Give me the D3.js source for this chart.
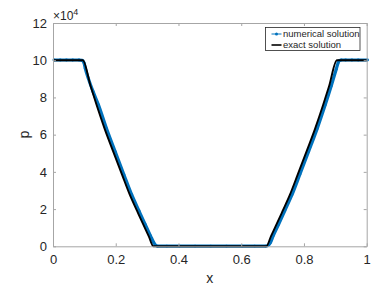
<!DOCTYPE html>
<html>
<head>
<meta charset="utf-8">
<script src="https://cdn.jsdelivr.net/npm/d3@7"></script>
<style>
  html, body { margin: 0; padding: 0; background: #fff; }
  svg { display: block; font-family: "Liberation Sans", Arial, sans-serif; }
</style>
</head>
<body>
<svg id="chart" width="382" height="287"></svg>
<script>
// ---- data (p in units of 1e4) ----
const exactX = [0, 0.095, 0.12, 0.139, 0.165, 0.192, 0.22, 0.245, 0.268, 0.288, 0.305, 0.32,
                0.68, 0.695, 0.712, 0.732, 0.755, 0.78, 0.808, 0.835, 0.861, 0.88, 0.905, 1];
const exactP = [10, 10, 8.6, 7.59, 6.3, 5.09, 3.85, 2.76, 1.9, 1.16, 0.55, 0,
                0, 0.55, 1.16, 1.9, 2.76, 3.85, 5.09, 6.3, 7.59, 8.6, 10, 10];

const numX = [0, 0.02, 0.04, 0.06, 0.08, 0.09, 0.096, 0.1, 0.11, 0.125, 0.142, 0.168, 0.195, 0.223,
              0.248, 0.271, 0.291, 0.308, 0.318, 0.324, 0.33, 0.36, 0.4, 0.45, 0.5, 0.55, 0.6, 0.64,
              0.675, 0.683, 0.69, 0.699, 0.716, 0.736, 0.759, 0.784, 0.812, 0.839, 0.865, 0.884,
              0.9, 0.906, 0.911, 0.916, 0.93, 0.95, 0.97, 1];
const numP = [10, 10, 10, 10, 10, 9.98, 9.85, 9.55, 9.0, 8.3, 7.59, 6.3, 5.09, 3.85,
              2.76, 1.9, 1.16, 0.55, 0.2, 0.05, 0, 0, 0, 0, 0, 0, 0, 0,
              0, 0.04, 0.18, 0.55, 1.16, 1.9, 2.76, 3.85, 5.09, 6.3, 7.59, 8.6,
              9.5, 9.85, 9.98, 10, 10, 10, 10, 10];

const xTicks = [0, 0.2, 0.4, 0.6, 0.8, 1];
const xTickLabels = ["0", "0.2", "0.4", "0.6", "0.8", "1"];
const yTicks = [0, 2, 4, 6, 8, 10, 12];
const yTickLabels = ["0", "2", "4", "6", "8", "10", "12"];
const seriesNames = ["numerical solution", "exact solution"];
const seriesColors = ["#0072BD", "#000000"];

// ---- layout ----
const svg = d3.select("#chart");
const L = 53, R = 366.7, T = 23, B = 246.3;
const x = d3.scaleLinear().domain([0, 1]).range([L, R]);
const y = d3.scaleLinear().domain([0, 12]).range([B, T]);
const axisColor = "#a6a6a6";
const textColor = "#262626";

// curves
const line = d3.line().x((d) => x(d[0])).y((d) => y(d[1])).curve(d3.curveMonotoneX);
const numData = numX.map((v, i) => [v, numP[i]]);
const exactData = exactX.map((v, i) => [v, exactP[i]]);

const g = svg.append("g");
g.append("path").datum(numData).attr("d", line)
  .attr("fill", "none").attr("stroke", seriesColors[0]).attr("stroke-width", 3.2)
  .attr("stroke-linejoin", "round").attr("transform", "translate(0.9,-0.2)");
g.selectAll("circle.num").data(numData).enter().append("circle")
  .attr("class", "num").attr("cx", (d) => x(d[0]) + 0.9).attr("cy", (d) => y(d[1]) - 0.2)
  .attr("r", 1.4).attr("fill", seriesColors[0]);
g.append("path").datum(exactData).attr("d", line)
  .attr("fill", "none").attr("stroke", seriesColors[1]).attr("stroke-width", 1.9)
  .attr("stroke-linejoin", "round");

// axes
const xAxisB = d3.axisBottom(x).tickValues(xTicks).tickFormat((d, i) => xTickLabels[i]).tickSizeInner(-3).tickSizeOuter(0).tickPadding(8);
const xAxisT = d3.axisTop(x).tickValues(xTicks).tickFormat("").tickSizeInner(-3).tickSizeOuter(0);
const yAxisL = d3.axisLeft(y).tickValues(yTicks).tickFormat((d, i) => yTickLabels[i]).tickSizeInner(-3).tickSizeOuter(0).tickPadding(6);
const yAxisR = d3.axisRight(y).tickValues(yTicks).tickFormat("").tickSizeInner(-3).tickSizeOuter(0);

function styleAxis(sel) {
  sel.select(".domain").attr("stroke", axisColor).attr("stroke-width", 1);
  sel.selectAll(".tick line").attr("stroke", axisColor).attr("stroke-width", 1);
  sel.selectAll(".tick text").attr("fill", textColor).attr("font-size", 13)
    .attr("font-family", "Liberation Sans, Arial, sans-serif");
}
svg.append("g").attr("transform", `translate(0,${B})`).call(xAxisB).call(styleAxis);
svg.append("g").attr("transform", `translate(0,${T})`).call(xAxisT).call(styleAxis);
svg.append("g").attr("transform", `translate(${L},0)`).call(yAxisL).call(styleAxis);
svg.append("g").attr("transform", `translate(${R},0)`).call(yAxisR).call(styleAxis);

// axis labels
svg.append("text").attr("x", (L + R) / 2).attr("y", 283).attr("text-anchor", "middle")
  .attr("fill", textColor).attr("font-size", 14).text("x");
svg.append("text").attr("transform", `translate(29,${(T + B) / 2}) rotate(-90)`)
  .attr("text-anchor", "middle").attr("fill", textColor).attr("font-size", 14).text("p");

// exponent
const ex = svg.append("text").attr("x", 53).attr("y", 20).attr("fill", textColor).attr("font-size", 12);
ex.append("tspan").text("\u00d710");
ex.append("tspan").attr("dy", -5).attr("font-size", 9).text("4");

// legend
const lg = svg.append("g");
lg.append("rect").attr("x", 265.5).attr("y", 27.5).attr("width", 94.5).attr("height", 23)
  .attr("fill", "#fff").attr("stroke", "#262626").attr("stroke-width", 0.8);
seriesNames.forEach((name, i) => {
  const yy = 34 + i * 11;
  lg.append("line").attr("x1", 271.5).attr("x2", 281.5).attr("y1", yy).attr("y2", yy)
    .attr("stroke", seriesColors[i]).attr("stroke-width", i === 0 ? 1 : 1.6);
  if (i === 0) lg.append("circle").attr("cx", 276.5).attr("cy", yy).attr("r", 1.5).attr("fill", seriesColors[0]);
  lg.append("text").attr("x", 283).attr("y", yy + 3.3).attr("font-size", 9.5)
    .attr("fill", textColor).text(name);
});
</script>
</body>
</html>
